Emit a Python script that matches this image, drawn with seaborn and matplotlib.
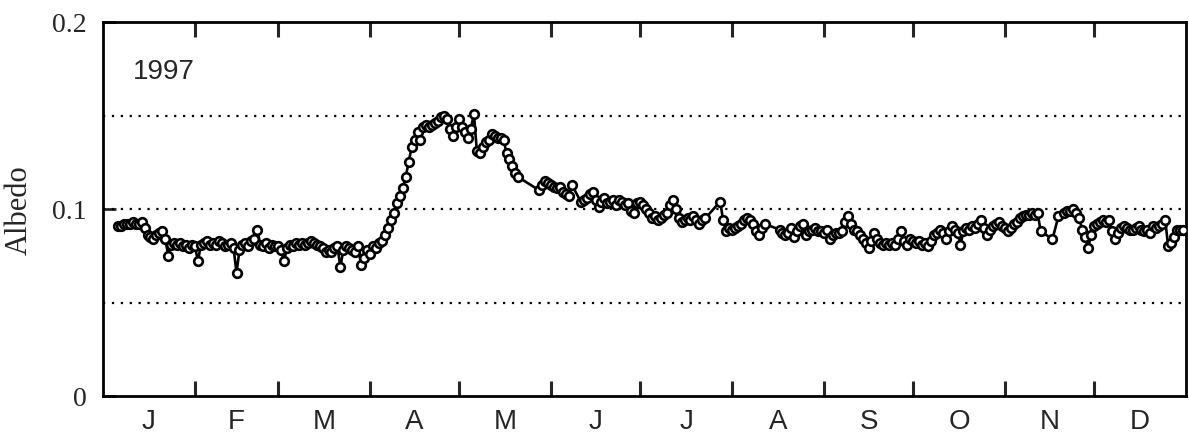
import numpy as np
import pandas as pd
import matplotlib
matplotlib.use("Agg")
import matplotlib.pyplot as plt
import seaborn as sns

nan = np.nan

# Daily surface albedo, 1997, one list per month (nan = no observation)
month_labels = ["J", "F", "M", "A", "M", "J", "J", "A", "S", "O", "N", "D"]
month_lengths = [31, 28, 31, 30, 31, 30, 31, 31, 30, 31, 30, 31]

jan = [nan, nan, nan, nan, nan,
       .091, .091, .092, .092, .092, .093, .092, .092, .093, .090,
       .086, .085, .084, .086, .087, .088, .084, .075, .081, .082,
       .081, .082, .080, .081, .079, .081]
feb = [.080, .072, .081, .082, .083, .081, .082, .081, .083, .082,
       .080, .081, .082, .079, .066, .078, .081, .082, .080, .083,
       .084, .089, .081, .080, .082, .079, .081, .080]
mar = [.080, .078, .072, .079, .081, .080, .082, .081, .082, .081,
       .082, .083, .082, .081, .080, .079, .077, .078, .077, .079,
       .080, .069, .078, .080, .079, .078, .077, .080, .070, .074, .078]
apr = [.076, .080, .079, .082, .083, .086, .090, .094, .098, .103,
       .107, .111, .117, .125, .133, .137, .141, .137, .144, .145,
       .144, .145, .146, .147, .149, .150, .148, .143, .139, .144]
may = [.148, .144, .141, .138, .143, .151, .131, .130, .133, .136,
       .137, .140, .139, .138, .138, .137, .130, .127, .123, .119,
       .117, nan, nan, nan, nan, nan, nan, .110, .113, .115, .114]
jun = [.113, .112, .111, .112, .109, .108, .107, .113, nan, nan,
       .104, .105, .106, .108, .109, .105, .101, .104, .106, .103,
       .104, .105, .102, .105, .104, .102, .103, .099, .098, .103]
jul = [.104, .102, .100, .098, .095, .096, .094, .095, .097, .098,
       .102, .105, .100, .095, .093, .094, .095, .094, .096, .094,
       .092, .094, .095, nan, nan, nan, nan, .104, .094, .088, .090]
aug = [.089, .090, .091, .092, .094, .095, .094, .092, .088, .086,
       .090, .092, nan, nan, nan, nan, .089, .087, .086, .087,
       .090, .085, .088, .091, .092, .086, .088, .089, .090, .088, .088]
sep = [.087, .089, .084, .086, .087, .087, .088, .093, .096, .092,
       .089, .088, .086, .084, .082, .079, .083, .087, .084, .082,
       .081, .082, .081, .082, .081, .084, .088, .083, .081, .084]
oct_ = [.083, .082, .083, .081, .082, .080, .083, .086, .087, .089,
        .087, .084, .088, .091, .089, .087, .081, .088, .090, .089,
        .091, .090, .092, .094, .090, .086, .089, .091, .092, .093, .091]
nov = [.090, .088, .090, .092, .093, .095, .096, .097, .097, .098,
       .097, .098, .088, nan, nan, nan, .084, nan, .096, nan,
       .098, .099, .099, .100, .098, .095, .089, .085, .079, .086]
dec = [.091, .092, .093, .094, .093, .094, .088, .084, .087, .090,
       .091, .090, .089, .089, .090, .091, .089, .088, .089, .087,
       .091, .090, .091, .092, .094, .080, .082, .085, .089, .089, .089]

months = [jan, feb, mar, apr, may, jun, jul, aug, sep, oct_, nov, dec]
albedo = np.concatenate([np.asarray(m, dtype=float) for m in months])
day = np.arange(1, len(albedo) + 1)
df = pd.DataFrame({"day": day, "albedo": albedo}).dropna()

month_starts = np.concatenate([[1], 1 + np.cumsum(month_lengths)])
month_centres = (month_starts[:-1] + month_starts[1:]) / 2

sns.set_style("ticks")
plt.rcParams["font.family"] = ["Liberation Serif", "DejaVu Serif"]

W, H = 1189, 435
fig = plt.figure(figsize=(W / 100, H / 100), dpi=100)
ax = fig.add_axes([103 / W, 1 - 397 / H, 1083 / W, 374 / H])

for level in (0.05, 0.10, 0.15):
    ax.axhline(level, color="black", lw=1.6, ls=(0, (1, 3)), zorder=1)

sns.lineplot(data=df, x="day", y="albedo", ax=ax, estimator=None,
             color="black", lw=1.9, marker="o", markersize=6.2,
             markerfacecolor="white", markeredgecolor="black",
             markeredgewidth=1.9, zorder=3)

ax.set_xlim(1, 366)
ax.set_ylim(0, 0.2)

ax.set_xticks(month_starts[1:-1])
ax.set_xticklabels([])
ax.set_xticks(month_centres, minor=True)
ax.set_xticklabels(month_labels, minor=True, fontfamily="Liberation Sans",
                   fontsize=20)
ax.tick_params(axis="x", which="major", direction="in", length=11, width=2.2,
               top=True, bottom=True)
ax.tick_params(axis="x", which="minor", length=0, pad=9)

ax.set_yticks([0, 0.1, 0.2])
ax.set_yticklabels(["0", "0.1", "0.2"], fontsize=20)
ax.tick_params(axis="y", which="major", direction="in", length=9, width=2,
               pad=12)

for spine in ax.spines.values():
    spine.set_linewidth(2.0)
    spine.set_color("black")

ax.set_xlabel("")
ax.set_ylabel("Albedo", fontsize=22)
ax.yaxis.set_label_coords(-0.064, 0.5)

ax.text(0.028, 0.869, "1997", transform=ax.transAxes, ha="left",
        va="center", fontsize=20, fontfamily="Liberation Sans")

fig.savefig("out.png", dpi=100)
